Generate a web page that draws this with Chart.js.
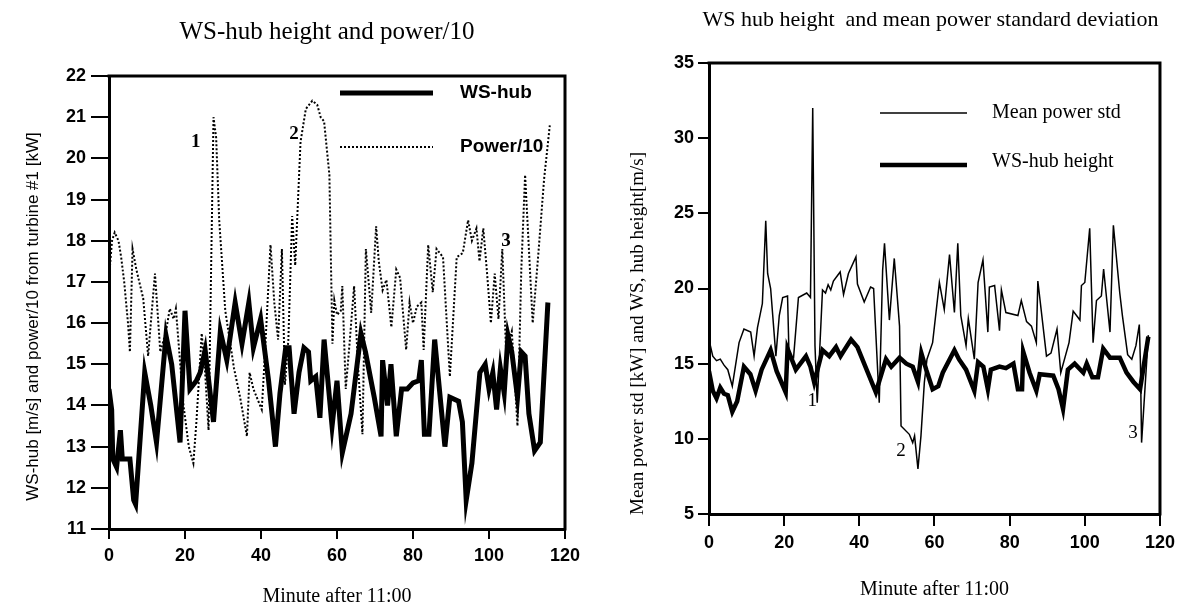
<!DOCTYPE html>
<html><head><meta charset="utf-8">
<script src="https://cdn.jsdelivr.net/npm/chart.js@4/dist/chart.umd.min.js"></script>
<style>
html,body{margin:0;padding:0;background:#fff;}
#wrap{position:relative;width:1181px;height:607px;overflow:hidden;background:#fff;}
canvas{position:absolute;top:0;}
#c1{left:0;} #c2{left:600px;}
</style></head><body>
<div id="wrap"><canvas id="c1" width="590" height="607"></canvas><canvas id="c2" width="581" height="607"></canvas></div>
<script>
// ---------- DATA ----------
// Left panel: WS-hub height and power/10
const wsHubMinutes = [0,0.7,1,2,3,3.5,4.5,5.5,6.5,7,9.4,11,12.5,15,16.5,18.7,20,21.3,23,24,25.3,27.5,29.3,31,33.2,35,36.8,38,39.9,42,43.8,45,46.5,47.4,48.7,50,51.3,52.5,53.1,54.4,55.5,56.6,58.7,60,61.4,63.7,66.3,67.5,69.8,71.6,72,73.3,74.2,75.6,77,78.5,80,81.5,82.2,83,84.2,85.7,88.4,89.7,92,93,94,95.5,97.6,99,100,101,102,103,104,105,106,107.5,108.5,109.5,110.5,112,113.5,115.5];
const wsHubValues = [14.4,13.9,12.7,12.5,13.4,12.7,12.7,12.7,11.7,11.6,14.8,14.0,13.1,15.7,15.0,13.1,16.3,14.4,14.6,14.8,15.35,13.6,15.8,15.1,16.5,15.5,16.5,15.4,16.1,14.6,13.0,14.3,15.4,15.4,13.8,14.8,15.4,15.3,14.6,14.7,13.7,15.6,13.5,14.6,12.85,13.8,15.75,15.3,14.2,13.25,15.1,14.0,15.0,13.25,14.4,14.4,14.55,14.6,15.1,13.3,13.3,15.6,13.0,14.2,14.1,13.6,11.7,12.6,14.8,15.0,14.4,14.8,13.9,14.9,14.3,15.7,15.3,14.2,15.3,15.2,13.8,12.9,13.1,16.5];
const powerMinutes = [0,0.8,1.5,2.5,3.2,4,5,5.5,6.2,7.2,9,10.3,11,12.1,13.5,15,16,17,17.6,19.6,21,22.2,23,24.4,25.3,26.2,27.5,28.2,29,30.6,32.9,34.5,36.3,37,38,40.2,41,42.5,43.5,44.5,45.5,46.3,47.2,48.2,49,50.4,51.8,53.5,54.8,55.7,56.6,58,58.4,58.8,59.3,60,61,61.4,62.3,63.3,64.5,65.5,66.7,67.6,69,70.3,71,72,73,74.3,75.6,76.6,78.2,79.1,80,81,82.2,82.8,84,85.2,86.2,87.9,89.7,91.5,93.1,94.5,95.5,96.7,97.5,98.5,99.5,100.5,101.5,102.5,103.5,104.5,106,107.5,108.5,109.5,110.5,111.5,113,114.5,116];
const powerValues = [17.1,18.0,18.2,18.0,17.6,17.0,16.0,15.3,17.8,17.3,16.6,15.2,16.0,17.2,15.3,15.8,16.35,16.1,16.35,14.0,13.0,12.6,13.6,15.75,14.8,13.4,21.0,20.5,18.5,16.3,14.9,14.2,13.25,14.8,14.4,13.9,15.2,17.9,16.5,15.6,17.8,14.5,15.6,18.6,17.4,20.4,21.2,21.4,21.3,21.0,20.9,19.6,17.5,15.5,16.55,16.2,16.3,16.9,14.4,15.5,16.9,15.0,13.3,17.8,16.25,18.35,17.5,16.8,17.05,15.9,17.3,17.1,15.35,16.5,16.0,16.4,16.5,15.35,17.9,16.75,17.8,17.6,14.7,17.6,17.7,18.5,18.0,18.3,17.5,18.3,17.2,16.0,17.2,16.1,17.8,15.3,15.8,13.5,17.3,19.6,17.8,16.0,17.7,19.5,20.8];

// Right panel: WS hub height and mean power standard deviation
const stdMinutes = [0,1,2,3,4,5,6.2,8,9.3,11.1,12,12.9,14.2,15.1,15.6,16.4,17.8,18.7,19.6,20.9,21.3,22.5,23.8,26,27,27.6,28.2,28.8,30.2,31,31.7,32.4,33.1,34.9,35.8,37.1,39.1,39.5,41.3,43,43.8,45.3,46.2,46.7,48,49.3,50.7,51.1,53.3,54.2,54.7,55.6,56.4,57.3,58,59.5,61.3,62.6,64,65.3,66.2,67,68.4,69,70.6,71.6,72.9,74.2,74.6,76,77.3,77.8,79,82.2,83.1,84.5,85.8,87.1,87.5,89.8,91,92.6,93.6,95.8,96.9,98.7,99.1,100,101.3,102.2,103.1,104.4,105,106.7,107.6,109.3,110,111.4,112.5,113.6,114.5,114.8,115.1,116.9];
const stdValues = [16.6,15.5,15.2,15.3,14.9,14.6,13.5,16.4,17.3,17.1,15.5,17.4,19.0,24.5,21.0,20.0,15.5,18.2,19.4,19.5,15.5,15.4,19.4,19.7,19.4,32.0,16.2,12.4,19.9,19.7,20.25,19.9,20.5,21.1,19.6,21.0,22.1,20.3,19.1,20.1,20.0,12.4,21.2,23.0,17.9,22.0,17.5,10.85,10.3,9.75,10.2,8.0,10.2,13.75,15.3,16.4,20.4,18.6,22.25,18.4,23.0,18.2,16.2,18.0,15.3,20.4,21.9,17.1,20.1,20.2,17.2,19.9,18.4,18.2,19.2,17.8,17.5,16.4,20.5,15.5,15.7,17.3,14.4,16.4,18.5,17.9,20.2,20.4,24.0,16.4,19.2,19.5,21.3,17.1,24.2,19.7,18.2,15.6,15.3,16.2,17.6,15.0,9.75,16.9];
const wsHeightMinutes = [0,1,2,3,4,5,6.2,7.5,9.3,11,12.4,14,16.4,18,20.4,20.9,23.1,25.8,27,28,30.2,32,33.8,35,36,37.8,39.5,44.4,47.1,48.5,50.7,52.5,54.2,55.6,56.5,57.8,59.5,61,62.2,65.3,66.5,68.4,70.6,71.6,73,74.2,75,77.3,79,81,82.2,83.3,83.6,85.3,87.1,88,91.6,93,94.2,95.5,97.3,99.6,100.5,102,103.5,104.9,106.7,109.3,111.1,112.9,114.7,116.9];
const wsHeightValues = [14.5,13.2,12.7,13.4,13.0,12.9,11.8,12.5,14.8,14.3,13.2,14.6,15.9,14.5,13.1,16.0,14.6,15.5,14.8,13.75,15.9,15.5,16.1,15.5,15.9,16.6,16.1,13.1,15.3,14.8,15.4,15.0,14.8,13.8,15.7,14.6,13.3,13.5,14.4,15.9,15.3,14.6,13.2,15.1,14.8,13.3,14.6,14.8,14.7,15.0,13.3,13.3,15.8,14.4,13.2,14.3,14.2,13.3,12.0,14.6,15.0,14.4,15.0,14.1,14.1,16.0,15.4,15.4,14.4,13.8,13.3,16.8];

// Event labels (text, minute, value)
const leftEventText = ['1','2','3'];
const leftEventMinute = [22.8,48.7,104.5];
const leftEventValue = [20.4,20.6,18.0];
const rightEventText = ['1','2','3'];
const rightEventMinute = [27.5,51.1,112.8];
const rightEventValue = [12.5,9.2,10.4];

// Tick settings
const xTicks = {min:0, max:120, step:20};
const leftY = {min:11, max:22, step:1};
const rightY = {min:5, max:35, step:5};

// ---------- HELPERS ----------
const pts = (xs, ys) => xs.map((x,i)=>({x:x, y:ys[i]}));
const SERIF = '"Liberation Serif", "Times New Roman", serif';
const SANS = '"Liberation Sans", Arial, sans-serif';

const framePlugin = {
  id:'frame',
  afterDraw(chart){
    const {ctx, chartArea:a} = chart;
    ctx.save(); ctx.strokeStyle='#000'; ctx.lineWidth=3; ctx.lineCap='square';
    ctx.beginPath(); ctx.moveTo(a.left,a.top); ctx.lineTo(a.right,a.top); ctx.lineTo(a.right,a.bottom); ctx.stroke();
    ctx.restore();
  }
};
const headPlugin = {
  id:'head',
  afterDraw(chart,args,o){
    const {ctx, chartArea:a} = chart;
    ctx.save(); ctx.fillStyle='#000'; ctx.font=o.font; ctx.textAlign='center'; ctx.textBaseline='middle';
    ctx.fillText(o.text, (a.left+a.right)/2 + o.dx, o.y);
    ctx.restore();
  }
};
// vertical axis title, centred on (x, plot centre + dy)
const yTitlePlugin = {
  id:'ytitle',
  afterDraw(chart,args,o){
    const {ctx, chartArea:a} = chart;
    ctx.save(); ctx.fillStyle='#000'; ctx.font=o.font; ctx.textAlign='center'; ctx.textBaseline='middle';
    ctx.translate(o.x, (a.top+a.bottom)/2 + o.dy); ctx.rotate(-Math.PI/2);
    ctx.fillText(o.text, 0, 0);
    ctx.restore();
  }
};
const keyPlugin = {
  id:'key',
  afterDraw(chart,args,o){
    const {ctx, chartArea:a} = chart;
    ctx.save();
    chart.data.datasets.forEach((ds,i)=>{
      const y = a.top + o.rows[i];
      ctx.strokeStyle='#000'; ctx.lineWidth=ds.borderWidth; ctx.setLineDash(ds.borderDash||[]);
      ctx.beginPath(); ctx.moveTo(a.left+o.x0,y); ctx.lineTo(a.left+o.x1,y); ctx.stroke();
      ctx.setLineDash([]);
      ctx.fillStyle='#000'; ctx.font=o.font; ctx.textAlign='left'; ctx.textBaseline='middle';
      ctx.fillText(ds.label, a.left+o.tx, y + (o.textDy? o.textDy[i]:0));
    });
    ctx.restore();
  }
};
const eventPlugin = {
  id:'events',
  afterDraw(chart,args,o){
    const {ctx, scales} = chart;
    ctx.save(); ctx.fillStyle='#000'; ctx.font=o.font; ctx.textAlign='center'; ctx.textBaseline='middle';
    o.text.forEach((t,i)=>{
      ctx.fillText(t, scales.x.getPixelForValue(o.minute[i]), scales.y.getPixelForValue(o.value[i]));
    });
    ctx.restore();
  }
};

function xScale(height, tickLen, pad){
  return {
    type:'linear', min:xTicks.min, max:xTicks.max,
    ticks:{stepSize:xTicks.step, color:'#000', padding:pad, maxRotation:0, font:{family:SANS, size:18, weight:'bold'}},
    grid:{drawOnChartArea:false, drawTicks:true, tickLength:tickLen, color:'#000', lineWidth:2},
    border:{display:true, color:'#000', width:3},
    title:{display:true, text:'Minute after 11:00', color:'#000', font:{family:SERIF, size:20, lineHeight:1}, padding:{top:0,bottom:height.titlePad}},
    afterFit(s){ s.height = height.h; }
  };
}
function yScale(r, width, tickLen, pad){
  return {
    type:'linear', min:r.min, max:r.max,
    ticks:{stepSize:r.step, color:'#000', padding:pad, font:{family:SANS, size:18, weight:'bold'}},
    grid:{drawOnChartArea:false, drawTicks:true, tickLength:tickLen, color:'#000', lineWidth:2},
    border:{display:true, color:'#000', width:3},
    afterFit(s){ s.width = width; }
  };
}

// ---------- LEFT CHART ----------
new Chart(document.getElementById('c1'), {
  type:'line',
  data:{datasets:[
    {label:'WS-hub', data:pts(wsHubMinutes, wsHubValues), borderColor:'#000', borderWidth:5, borderJoinStyle:'miter', pointRadius:0, tension:0, order:0},
    {label:'Power/10', data:pts(powerMinutes, powerValues), borderColor:'#000', borderWidth:2, borderDash:[2,2], pointRadius:0, tension:0, order:1}
  ]},
  options:{
    responsive:false, animation:false, devicePixelRatio:1,
    layout:{padding:{left:0,right:25,top:76,bottom:0}, autoPadding:false},
    scales:{
      x: xScale({h:78, titlePad:0}, 10, 6),
      y: yScale(leftY, 109, 18, 5)
    },
    plugins:{
      legend:{display:false}, tooltip:{enabled:false},
      head:{text:'WS-hub height and power/10', font:'25px '+SERIF, dx:-10, y:32},
      ytitle:{text:'WS-hub [m/s] and power/10 from turbine #1 [kW]', font:'17px '+SANS, x:33, dy:14},
      key:{x0:231, x1:324, tx:351, rows:[17,71], font:'bold 19px '+SANS},
      events:{text:leftEventText, minute:leftEventMinute, value:leftEventValue, font:'bold 19px '+SERIF}
    }
  },
  plugins:[framePlugin, headPlugin, yTitlePlugin, keyPlugin, eventPlugin]
});

// ---------- RIGHT CHART ----------
new Chart(document.getElementById('c2'), {
  type:'line',
  data:{datasets:[
    {label:'Mean power std', data:pts(stdMinutes, stdValues), borderColor:'#000', borderWidth:1.5, pointRadius:0, tension:0, order:1},
    {label:'WS-hub height', data:pts(wsHeightMinutes, wsHeightValues), borderColor:'#000', borderWidth:4.5, borderJoinStyle:'miter', pointRadius:0, tension:0, order:0}
  ]},
  options:{
    responsive:false, animation:false, devicePixelRatio:1,
    layout:{padding:{left:0,right:21,top:63,bottom:0}, autoPadding:false},
    scales:{
      x: xScale({h:93, titlePad:7}, 12, 6),
      y: yScale(rightY, 109, 11, 4)
    },
    plugins:{
      legend:{display:false}, tooltip:{enabled:false},
      head:{text:'WS hub height  and mean power standard deviation', font:'22px '+SERIF, dx:-4, y:20},
      ytitle:{text:'Mean power std [kW] and WS, hub height[m/s]', font:'19px '+SERIF, x:38, dy:45},
      key:{x0:171, x1:258, tx:283, rows:[50,102], textDy:[0,-3], font:'20px '+SERIF},
      events:{text:rightEventText, minute:rightEventMinute, value:rightEventValue, font:'19px '+SERIF}
    }
  },
  plugins:[framePlugin, headPlugin, yTitlePlugin, keyPlugin, eventPlugin]
});
</script>
</body></html>
